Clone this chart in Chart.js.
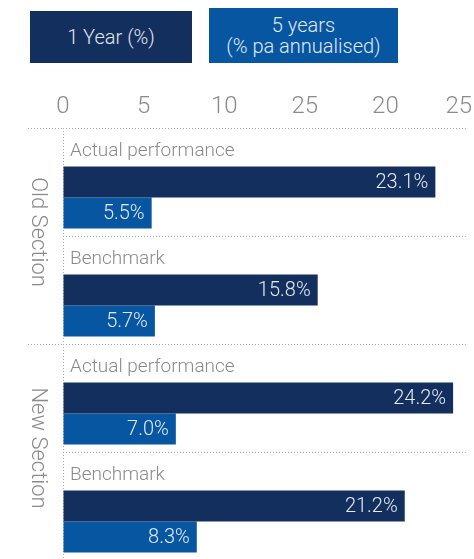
<!DOCTYPE html>
<html>
<head>
<meta charset="utf-8">
<script src="https://cdn.jsdelivr.net/npm/chart.js@4.4.1/dist/chart.umd.min.js"></script>
<style>
  html, body { margin: 0; padding: 0; background: #fff; overflow: hidden; }
  body { width: 474px; height: 559px; position: relative; font-family: Roboto, "Liberation Sans", sans-serif; font-weight: 300; }
  #wrap { position: absolute; left: 0; top: 0; width: 474px; height: 562px; }
  .key { position: absolute; display: flex; align-items: center; justify-content: center; text-align: center;
         color: #e2e7f0; font-size: 20px; line-height: 21px; }
</style>
</head>
<body>
<div id="legend"></div>
<div id="wrap"><canvas id="chart"></canvas></div>
<script>
var categories = ['Actual performance', 'Benchmark', 'Actual performance', 'Benchmark'];
var sections = ['Old Section', 'New Section'];
var seriesNames = ['1 Year (%)', '5 years\n(% pa annualised)'];
var oneYear = [23.1, 15.8, 24.2, 21.2];
var fiveYears = [5.5, 5.7, 7.0, 8.3];
var tickValues = [0, 5, 10, 15, 20, 25];
var tickLabels = ['0', '5', '10', '25', '20', '25'];

var navy = '#122f5e';
var blue = '#0656a2';
var grey = '#8a8a8a';
var dotted = '#a8a8a8';
var fam = 'Roboto, "Liberation Sans", sans-serif';

// html legend boxes
var boxes = [
  { left: 30, top: 11, w: 162, h: 52, color: navy },
  { left: 209, top: 8, w: 189, h: 55, color: blue }
];
var legend = document.getElementById('legend');
seriesNames.forEach(function (name, i) {
  var d = document.createElement('div');
  d.className = 'key';
  d.style.left = boxes[i].left + 'px';
  d.style.top = boxes[i].top + 'px';
  d.style.width = boxes[i].w + 'px';
  d.style.height = boxes[i].h + 'px';
  d.style.background = boxes[i].color;
  d.style.zIndex = 2;
  d.innerHTML = name.replace('\n', '<br>');
  legend.appendChild(d);
});

var labelsPlugin = {
  id: 'labels',
  afterDatasetsDraw: function (chart) {
    var ctx = chart.ctx;
    var x = chart.scales.x;
    var y = chart.scales.y;
    ctx.save();
    // axis numbers on top, last one kept inside the canvas
    ctx.fillStyle = grey;
    ctx.font = '300 24px ' + fam;
    ctx.textAlign = 'center';
    ctx.textBaseline = 'middle';
    tickValues.forEach(function (v, i) {
      var w = ctx.measureText(tickLabels[i]).width;
      var px = Math.min(x.getPixelForValue(v), chart.width - w / 2 - 2);
      ctx.fillText(tickLabels[i], px, 107);
    });
    // category names above the bars
    ctx.font = '300 19px ' + fam;
    ctx.textAlign = 'left';
    categories.forEach(function (c, i) {
      ctx.fillText(c, chart.chartArea.left + 7, y.getPixelForValue(i) - 31);
    });
    // values inside bars
    ctx.fillStyle = '#e4e8f0';
    ctx.font = '300 20px ' + fam;
    ctx.textAlign = 'right';
    [1, 2].forEach(function (di) {
      var meta = chart.getDatasetMeta(di);
      meta.data.forEach(function (bar, i) {
        var v = chart.data.datasets[di].data[i];
        ctx.fillText(v.toFixed(1) + '%', bar.x - 7, bar.y + 1);
      });
    });
    // section names, rotated
    ctx.fillStyle = grey;
    ctx.font = '300 22px ' + fam;
    ctx.textAlign = 'center';
    sections.forEach(function (s, k) {
      var yc = (y.getPixelForValue(2 * k) + y.getPixelForValue(2 * k + 1)) / 2 - 4;
      ctx.save();
      ctx.translate(37, yc);
      ctx.rotate(Math.PI / 2);
      ctx.fillText(s, 0, 0);
      ctx.restore();
    });
    ctx.restore();
  }
};

new Chart(document.getElementById('chart'), {
  type: 'bar',
  data: {
    labels: categories,
    datasets: [{
      // empty slot that leaves room for the category name
      label: '',
      data: categories.map(function () { return null; }),
      backgroundColor: 'rgba(0,0,0,0)'
    }, {
      label: seriesNames[0],
      data: oneYear,
      backgroundColor: navy
    }, {
      label: seriesNames[1],
      data: fiveYears,
      backgroundColor: blue
    }]
  },
  options: {
    indexAxis: 'y',
    responsive: true,
    maintainAspectRatio: false,
    animation: false,
    categoryPercentage: 0.861,
    barPercentage: 1,
    layout: { padding: { left: 28, top: 128, right: 8, bottom: 2 } },
    plugins: { legend: { display: false }, tooltip: { enabled: false } },
    scales: {
      x: {
        position: 'top',
        min: 0,
        max: 25,
        afterFit: function (s) { s.paddingRight = 0; s.paddingLeft = 0; },
        ticks: { display: false, stepSize: 5 },
        grid: {
          drawTicks: false,
          color: function (c) { return c.tick && c.tick.value === 0 ? dotted : 'rgba(0,0,0,0)'; }
        },
        border: { display: false, dash: [1, 2] }
      },
      y: {
        ticks: { display: false },
        grid: {
          offset: true,
          tickLength: 35,
          color: dotted,
          tickColor: function (c) { return c.index % 2 === 0 ? dotted : 'rgba(0,0,0,0)'; },
          tickBorderDash: [1, 2]
        },
        border: { display: false, dash: [1, 2] }
      }
    }
  },
  plugins: [labelsPlugin]
});
</script>
</body>
</html>
